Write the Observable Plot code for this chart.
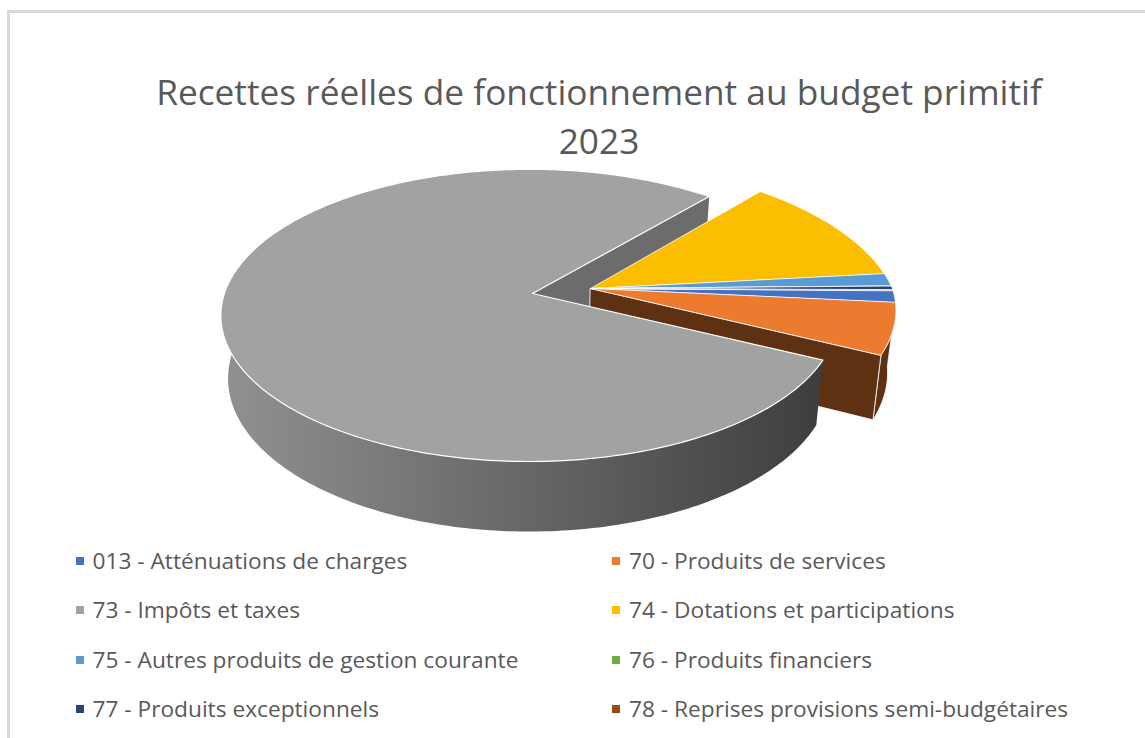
<!DOCTYPE html>
<html lang="fr"><head><meta charset="utf-8">
<script src="https://cdn.jsdelivr.net/npm/d3@7"></script>
<script src="https://cdn.jsdelivr.net/npm/@observablehq/plot@0.6"></script>
<style>
html,body{margin:0;padding:0;background:#fff;overflow:hidden;width:1145px;height:738px}
body{position:relative;font-family:"Open Sans",sans-serif;color:#595959}
#frame{position:absolute;left:7px;top:10px;width:1160px;height:760px;border:3px solid #d9d9d9;box-sizing:border-box}
#title{position:absolute;left:0;top:67px;width:1198px;text-align:center;font-size:35.25px;line-height:49px;font-weight:400;margin:0}
#chart{position:absolute;left:0;top:165px}
#legend{position:absolute;left:0;top:549px;width:1145px;font-size:22.7px;line-height:24px}
.it{position:absolute;white-space:nowrap}
.it i{position:absolute;left:-17px;top:8px;width:8px;height:8px}
</style></head><body>
<div id="frame"></div>
<h1 id="title">Recettes réelles de fonctionnement au budget primitif<br>2023</h1>
<div id="chart"></div>
<div id="legend"></div>
<script>
const labels = ["013 - Atténuations de charges","70 - Produits de services","73 - Impôts et taxes","74 - Dotations et participations","75 - Autres produits de gestion courante","76 - Produits financiers","77 - Produits exceptionnels","78 - Reprises provisions semi-budgétaires"];
const values = [1.3, 5.7, 78.7, 12.0, 1.4, 0.02, 0.4, 0.1];
const colors = ["#4472c4","#ec7b30","#a2a2a2","#fcbe00","#5b9bd5","#70ad47","#264478","#9e480e"];
const shades = {rimLeft:"#909090", rimRight:"#3e3e3e", wall:"#6c6c6c", brown:"#5f3113"};

const firstAngle = 90.8, gray = 2;
const hubs = {main:[532,293], out:[590,288]};
const total = d3.sum(values);
let acc = firstAngle;
const slices = values.map((v,i)=>{const a0=acc; acc+=v/total*360; return {i,a0,a1:acc,hub:i===gray?hubs.main:hubs.out};});

const K=.15,M=.01,A=142.8,B=305,farX=.06;
function upper(hub,deg){
  const t=deg*Math.PI/180,u=Math.sin(t),v=-Math.cos(t),d=1-K*v+M*u;
  const dx=d+(hub===hubs.out?farX*Math.max(0,-v):0);
  return [hub[0]+B*u/dx,hub[1]+A*v/d];
}
function low(p){return [p[0]-(p[0]-533)*.023,p[1]+62+(p[1]-300)*.05];}
function arc(hub,a0,a1){const n=Math.max(2,Math.ceil(Math.abs(a1-a0)));return d3.range(n+1).map(k=>upper(hub,a0+(a1-a0)*k/n));}
const poly=(id,pts)=>pts.map(([x,y])=>({id,x,y}));
function face(s){return poly("f"+s.i,[s.hub,...arc(s.hub,s.a0,s.a1)]);}
function rim(s,a0,a1){const t=arc(s.hub,a0,a1);return poly("r"+s.i,[...t,...t.map(low).reverse()]);}
function wall(hub,deg,id){const c=upper(hub,deg);return poly(id,[hub,c,low(c),low(hub)]);}

const G=slices[gray], O=slices[1];
const fillPoly=(pts,fill,stroke,sw)=>Plot.line(pts,{x:"x",y:"y",z:"id",curve:"linear-closed",fill,stroke:stroke||"none",strokeWidth:sw||0,strokeLinejoin:"round"});
const defs=(index,{x})=>{
  const g=d3.create("svg:defs"), lg=g.append("linearGradient").attr("id","rimGrad").attr("gradientUnits","userSpaceOnUse").attr("x1",x(228)).attr("x2",x(820)).attr("y1",0).attr("y2",0);
  lg.append("stop").attr("offset",0).attr("stop-color",shades.rimLeft);
  lg.append("stop").attr("offset",1).attr("stop-color",shades.rimRight);
  return g.node();
};
const chart=Plot.plot({
  width:1145,height:375,margin:0,
  x:{axis:null,domain:[0,1145],range:[0,1145]},
  y:{axis:null,domain:[165,540],range:[0,375]},
  marks:[
    defs,
    fillPoly(wall(hubs.main,G.a1,"gw"),shades.wall),
    fillPoly(rim(O,O.a0+1,O.a1),shades.brown,"#fff",.8),
    fillPoly(wall(hubs.out,O.a1,"ow"),shades.brown,"#fff",.8),
    ...slices.filter(s=>s.i!==gray).map(s=>fillPoly(face(s),colors[s.i],"#fff",.8)),
    fillPoly(rim(G,G.a0,270),"url(#rimGrad)"),
    fillPoly(face(G),colors[gray],"#fff",1.2)
  ]
});
document.getElementById("chart").append(chart);

const lg=document.getElementById("legend");
labels.forEach((t,i)=>{
  const col=i%2,row=(i-col)/2;
  const d=document.createElement("div");d.className="it";
  d.style.left=(col?629:92.5)+"px";d.style.top=(row*49.3)+"px";d.textContent=t;
  const m=document.createElement("i");m.style.background=colors[i];d.prepend(m);
  lg.append(d);
});
</script></body></html>
